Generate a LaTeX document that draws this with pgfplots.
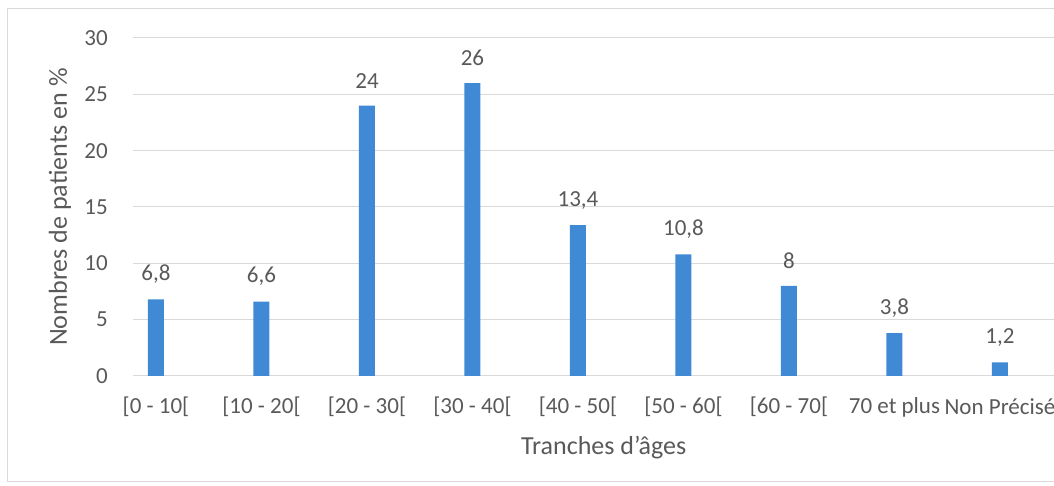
\documentclass[border=0pt]{standalone}
\usepackage{pgfplots}
\pgfplotsset{compat=1.18}
\usepackage{fontspec}
\setmainfont{Carlito}
\definecolor{barblue}{RGB}{64,137,213}
\definecolor{txtgray}{RGB}{89,89,89}
\definecolor{gridgray}{RGB}{217,217,217}
\begin{document}
\begin{tikzpicture}
\useasboundingbox (-133pt,-110pt) rectangle (921pt,376pt);
\draw[gridgray, line width=1pt] (927pt,367pt) -- (-125pt,367pt) -- (-125pt,-106pt) -- (927pt,-106pt);
\begin{axis}[
  at={(0pt,0pt)}, anchor=south west,
  scale only axis, width=921pt, height=338pt,
  xmin=-0.218, xmax=8.512, ymin=0, ymax=30,
  ytick={0,5,...,30},
  xtick={0,...,8},
  xticklabels={{[0 - 10[},{[10 - 20[},{[20 - 30[},{[30 - 40[},{[40 - 50[},{[50 - 60[},{[60 - 70[},{70 et plus},{Non Précisé}},
  axis line style={draw=none},
  major tick length=0pt,
  ymajorgrids, grid style={gridgray, line width=1pt},
  /pgf/number format/assume math mode=true,
  tick label style={font=\fontsize{23}{26}\selectfont, text=txtgray},
  yticklabel style={anchor=east, inner sep=0pt, xshift=-25pt},
  xticklabel style={anchor=center, inner sep=0pt, yshift=-31pt},
  ylabel={Nombres de patients en \%},
  xlabel={Tranches d\char39âges},
  label style={font=\fontsize{26}{29}\selectfont, text=txtgray},
  ylabel style={at={(axis description cs:-0.0793,0.5)}, anchor=center},
  xlabel style={at={(axis description cs:0.511,-0.213)}, anchor=center},
  clip=false,
]
\addplot[ybar, bar width=16pt, bar shift=0pt, fill=barblue, draw=none,
  nodes near coords={\pgfmathprintnumber[use comma, fixed]{\pgfplotspointmeta}},
  every node near coord/.append style={font=\fontsize{23}{26}\selectfont, text=txtgray, anchor=center, yshift=25pt}]
  coordinates {(0,6.8) (1,6.6) (2,24) (3,26) (4,13.4) (5,10.8) (6,8) (7,3.8) (8,1.2)};
\end{axis}
\end{tikzpicture}
\end{document}
